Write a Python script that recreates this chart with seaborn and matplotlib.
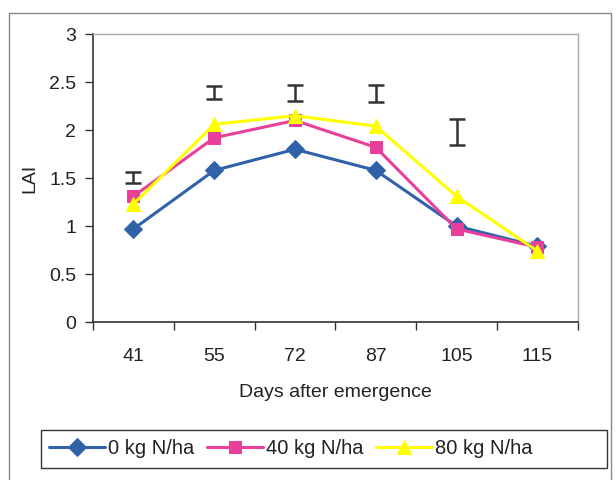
import matplotlib
matplotlib.use("Agg")
import matplotlib.pyplot as plt
import seaborn as sns
import pandas as pd
from matplotlib.patches import Rectangle

days = ["41", "55", "72", "87", "105", "115"]
lai_0 = [0.97, 1.58, 1.80, 1.58, 1.00, 0.79]
lai_40 = [1.31, 1.92, 2.10, 1.82, 0.97, 0.78]
lai_80 = [1.23, 2.06, 2.15, 2.04, 1.31, 0.74]
series_names = ["0 kg N/ha", "40 kg N/ha", "80 kg N/ha"]
bar_center = [1.505, 2.39, 2.385, 2.38, 1.98]
bar_half = [0.055, 0.07, 0.085, 0.09, 0.14]

sns.set_style("white")
plt.rcParams["font.family"] = ["Liberation Sans", "DejaVu Sans"]

fig = plt.figure(figsize=(6.16, 4.8), dpi=100)
ax = fig.add_axes([0.151, 0.329, 0.787, 0.600])

idx = list(range(len(days)))
df = pd.DataFrame({
    "x": idx * 3,
    "LAI": lai_0 + lai_40 + lai_80,
    "series": sum([[s] * len(days) for s in series_names], []),
})
colors = ["#2f62a8", "#e8409a", "#ffff00"]
markers = ["D", "s", "^"]
msizes = [9, 9, 10.5]
for name, c, m, ms in zip(series_names, colors, markers, msizes):
    sub = df[df["series"] == name]
    sns.lineplot(data=sub, x="x", y="LAI", ax=ax, color=c, marker=m,
                 markersize=ms, markeredgecolor=c, linewidth=2.2, label=name)

ax.errorbar(idx[:5], bar_center, yerr=bar_half, fmt="none", ecolor="#333333",
            elinewidth=1.8, capsize=6, capthick=1.8)

ax.set_xlim(-0.5, 5.5)
ax.set_ylim(0, 3)
ax.set_xticks([i - 0.5 for i in range(7)])
ax.set_xticklabels([])
ax.set_xticks(idx, minor=True)
ax.set_xticklabels(days, minor=True)
ax.tick_params(axis="x", which="major", direction="out", length=6, width=1, color="#333333", bottom=True)
ax.tick_params(axis="x", which="minor", length=0, pad=19, labelsize=14, labelcolor="#222222")
ax.set_yticks([0, 0.5, 1, 1.5, 2, 2.5, 3])
ax.set_yticklabels(["0", "0.5", "1", "1.5", "2", "2.5", "3"])
ax.tick_params(axis="y", direction="out", length=6, width=1, color="#333333", left=True, pad=6,
               labelsize=14, labelcolor="#222222")
ax.set_xlabel("Days after emergence", fontsize=14, color="#222222", labelpad=13)
ax.set_ylabel("LAI", fontsize=14, color="#222222", labelpad=8)

for s in ["left", "bottom"]:
    ax.spines[s].set_color("#333333")
    ax.spines[s].set_linewidth(1.2)
for s in ["top", "right"]:
    ax.spines[s].set_color("#aaaaaa")
    ax.spines[s].set_linewidth(1.0)

if ax.legend_:
    ax.legend_.remove()
handles, labels = ax.get_legend_handles_labels()
leg = fig.legend(handles[:3], labels[:3], loc="center left", ncol=3,
                 bbox_to_anchor=(49 / 616, 1 - 449 / 480), frameon=False,
                 fontsize=14.5, handlelength=2.8, handletextpad=0.15,
                 columnspacing=0.6, borderpad=0.0, borderaxespad=0.0)
for t in leg.get_texts():
    t.set_color("#222222")

fig.patches.append(Rectangle((41 / 616, 1 - 468 / 480), 566 / 616, 38 / 480,
                             transform=fig.transFigure, fill=False,
                             edgecolor="#333333", linewidth=1.0))
fig.patches.append(Rectangle((9 / 616, -0.05), 602 / 616, 1 - 13 / 480 + 0.05,
                             transform=fig.transFigure, fill=False,
                             edgecolor="#888888", linewidth=1.0))

fig.savefig("out.png", dpi=100)
